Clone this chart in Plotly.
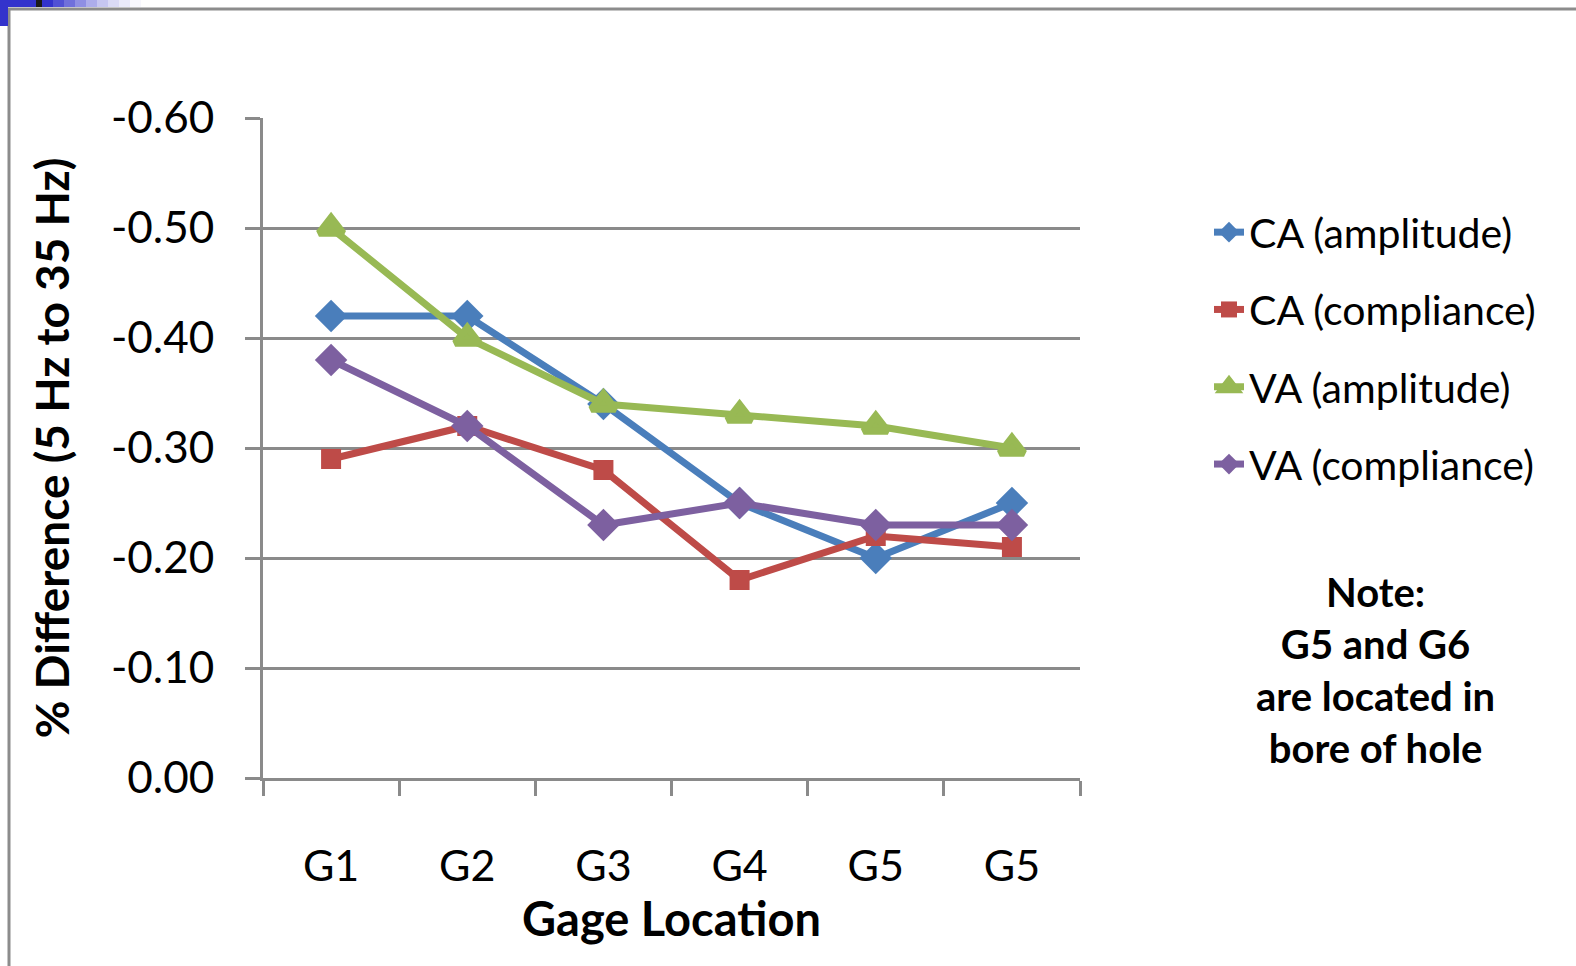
import plotly.graph_objects as go

# Gage positions along the x axis and their printed labels
tick_labels = ["G1", "G2", "G3", "G4", "G5", "G5"]

# Percent difference (5 Hz to 35 Hz) per gage
ca_amplitude = [-0.42, -0.42, -0.34, -0.25, -0.20, -0.25]
ca_compliance = [-0.29, -0.32, -0.28, -0.18, -0.22, -0.21]
va_amplitude = [-0.50, -0.40, -0.34, -0.33, -0.32, -0.30]
va_compliance = [-0.38, -0.32, -0.23, -0.25, -0.23, -0.23]

y_ticks = [0.0, -0.1, -0.2, -0.3, -0.4, -0.5, -0.6]

W, H = 1576, 966
L, R, T, B = 263, 1080, 118, 778  # plot area in pixels

FONT = "Lato, 'Open Sans', sans-serif"
GRID = "#8a8a8a"

# name, values, colour, symbol, size, marker outline width
series = [
    ("CA (amplitude)", ca_amplitude, "#4A7EBB", "diamond", 25, 0),
    ("CA (compliance)", ca_compliance, "#BE4B48", "square", 20, 0),
    ("VA (amplitude)", va_amplitude, "#98B954", "triangle-up", 21, 7),
    ("VA (compliance)", va_compliance, "#7D60A0", "diamond", 25, 0),
]

x = list(range(len(tick_labels)))

fig = go.Figure()
for name, vals, color, sym, size, lw in series:
    fig.add_trace(go.Scatter(
        x=x, y=vals, name=name, mode="lines+markers",
        legendgroup=name,
        line=dict(color=color, width=7),
        marker=dict(symbol=sym, size=size, color=color,
                    line=dict(width=lw, color=color)),
    ))


def px_x(p):
    return (p - L) / (R - L)


def px_y(p):
    return (B - p) / (B - T)


shapes = [
    # outer frame (left and top edges)
    dict(type="line", xref="paper", yref="paper", x0=px_x(9), x1=px_x(9),
         y0=px_y(H + 10), y1=px_y(8), line=dict(color="#8c8c8c", width=3)),
    dict(type="line", xref="paper", yref="paper", x0=px_x(8), x1=px_x(W + 10),
         y0=px_y(9), y1=px_y(9), line=dict(color="#8c8c8c", width=3)),
    # corner decoration
    dict(type="rect", xref="paper", yref="paper", x0=px_x(0), x1=px_x(8),
         y0=px_y(26), y1=px_y(0), line=dict(width=0), fillcolor="#3333cc"),
    dict(type="rect", xref="paper", yref="paper", x0=px_x(0), x1=px_x(36),
         y0=px_y(7), y1=px_y(0), line=dict(width=0), fillcolor="#3333cc"),
    dict(type="rect", xref="paper", yref="paper", x0=px_x(36), x1=px_x(42),
         y0=px_y(7), y1=px_y(0), line=dict(width=0), fillcolor="#1a1a1a"),
]
fade = [1.0, 0.85, 0.7, 0.55, 0.4, 0.28, 0.18, 0.1, 0.04]
for i, a in enumerate(fade):
    shapes.append(dict(type="rect", xref="paper", yref="paper",
                       x0=px_x(42 + i * 11), x1=px_x(53 + i * 11),
                       y0=px_y(7), y1=px_y(0), line=dict(width=0),
                       fillcolor=f"rgba(51,51,204,{a})"))

fig.update_layout(
    width=W, height=H,
    margin=dict(l=L, r=W - R, t=T, b=H - B, autoexpand=False),
    paper_bgcolor="white", plot_bgcolor="white",
    font=dict(family=FONT, color="black"),
    showlegend=True,
    legend=dict(
        x=px_x(1209), y=px_y(199), xanchor="left", yanchor="top",
        font=dict(size=41, family=FONT, color="black"),
        tracegroupgap=21, traceorder="grouped",
        bgcolor="rgba(0,0,0,0)",
    ),
    shapes=shapes,
    annotations=[
        dict(
            xref="paper", yref="paper", x=px_x(1375), y=px_y(566),
            xanchor="center", yanchor="top", align="center",
            text="<b>Note:</b><br><b>G5 and G6</b><br><b>are located in</b><br><b>bore of hole</b>",
            showarrow=False, font=dict(size=40, family=FONT, color="black"),
        )
    ],
)

fig.update_xaxes(
    range=[-0.5, len(tick_labels) - 0.5],
    tickmode="array", tickvals=x, ticktext=tick_labels,
    ticks="", ticklabelstandoff=48,
    tickfont=dict(size=43, family=FONT),
    showgrid=False, zeroline=False,
    showline=True, linecolor=GRID, linewidth=3,
    minor=dict(tickmode="linear", tick0=-0.5, dtick=1, ticks="outside",
               ticklen=15, tickwidth=3, tickcolor=GRID, showgrid=False),
    title=dict(text="<b>Gage Location</b>", font=dict(size=47, family=FONT), standoff=13),
)

fig.update_yaxes(
    range=[0.0, -0.6],
    tickmode="array", tickvals=y_ticks, ticktext=[f"{v:.2f}" for v in y_ticks],
    ticks="outside", ticklen=15, tickwidth=3, tickcolor=GRID,
    ticklabelstandoff=22,
    tickfont=dict(size=44, family=FONT),
    showgrid=True, gridcolor=GRID, gridwidth=3,
    zeroline=False,
    showline=True, linecolor=GRID, linewidth=3,
    title=dict(text="<b>% Difference (5 Hz to 35 Hz)</b>", font=dict(size=46, family=FONT), standoff=27),
)

fig.write_html("out.html")
